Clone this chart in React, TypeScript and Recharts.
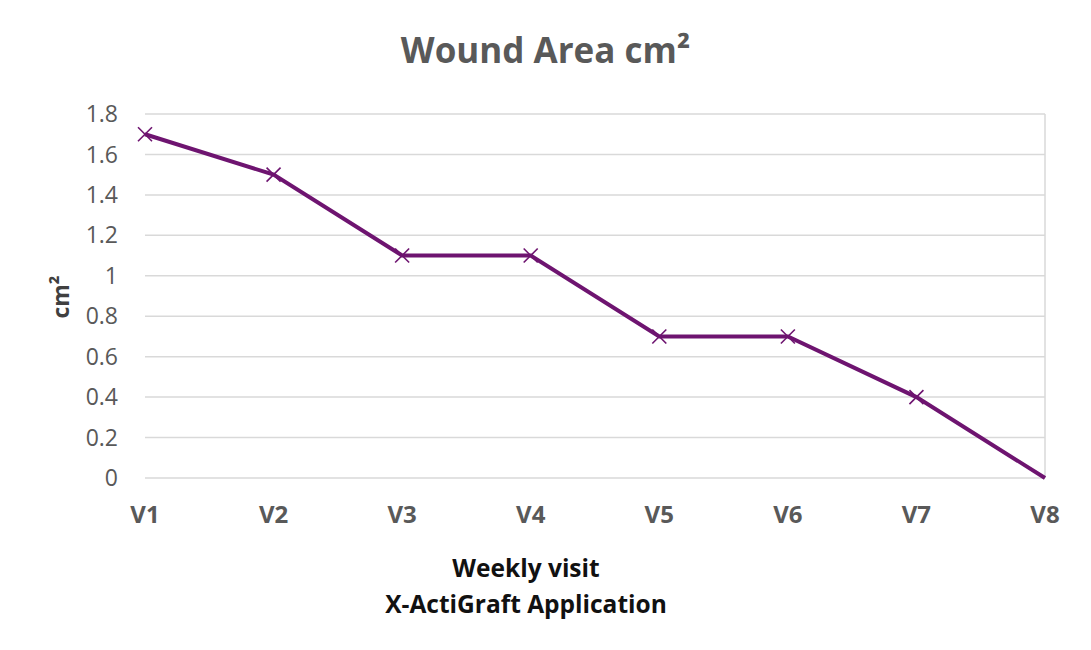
import { CartesianGrid, Line, LineChart, ReferenceLine, XAxis, YAxis } from "recharts";

const visits = ["V1", "V2", "V3", "V4", "V5", "V6", "V7", "V8"];
const woundArea = [1.7, 1.5, 1.1, 1.1, 0.7, 0.7, 0.4, 0];
const yTicks = [0, 0.2, 0.4, 0.6, 0.8, 1, 1.2, 1.4, 1.6, 1.8];

const data = visits.map((name, i) => ({ name, area: woundArea[i] }));

const font = "'Open Sans', sans-serif";
const purple = "#6e1470";

function CrossDot(props: any) {
  const { cx, cy, index } = props;
  if (index === visits.length - 1 || cx == null || cy == null) return null;
  const s = 7;
  return (
    <g key={`dot-${index}`}>
      <line x1={cx - s} y1={cy - s} x2={cx + s} y2={cy + s} stroke={purple} strokeWidth={1.6} />
      <line x1={cx - s} y1={cy + s} x2={cx + s} y2={cy - s} stroke={purple} strokeWidth={1.6} />
    </g>
  );
}

export default function App() {
  return (
    <div style={{ position: "relative", width: 1091, height: 650, background: "#fff", fontFamily: font }}>
      <style>{"body{margin:0}"}</style>
      <div style={{ position: "absolute", top: 25, left: 0, width: 1091, textAlign: "center", fontSize: 35, lineHeight: "50px", fontWeight: 700, color: "#595959" }}>
        Wound Area cm²
      </div>
      <div
        style={{
          position: "absolute",
          left: 60,
          top: 297,
          transform: "translate(-50%, -50%) rotate(-90deg)",
          fontSize: 23,
          fontWeight: 700,
          color: "#404040",
          whiteSpace: "nowrap",
        }}
      >
        cm²
      </div>
      <div style={{ position: "absolute", top: 550, left: 0, width: 1052, textAlign: "center", fontSize: 24.5, fontWeight: 700, color: "#111", lineHeight: "36px" }}>
        Weekly visit
        <br />
        X-ActiGraft Application
      </div>
      <LineChart width={1091} height={650} data={data} margin={{ top: 114, right: 46, bottom: 142, left: 0 }}>
        <CartesianGrid vertical={false} stroke="#d9d9d9" strokeWidth={1.5} />
        <ReferenceLine x={visits[0]} stroke="#d9d9d9" strokeWidth={1.5} />
        <ReferenceLine x={visits[visits.length - 1]} stroke="#d9d9d9" strokeWidth={1.5} />
        <XAxis
          dataKey="name"
          padding={{ left: 0, right: 0 }}
          tickLine={false}
          axisLine={false}
          tickSize={0}
          tickMargin={28}
          interval={0}
          tick={{ fontSize: 24, fontWeight: 700, fill: "#595959", fontFamily: font }}
        />
        <YAxis
          width={145}
          domain={[0, 1.8]}
          ticks={yTicks}
          tickLine={false}
          axisLine={false}
          tickSize={0}
          tickMargin={27}
          tick={{ fontSize: 23, fill: "#595959", fontFamily: font }}
        />
        <Line
          type="linear"
          dataKey="area"
          stroke={purple}
          strokeWidth={4}
          dot={CrossDot}
          activeDot={false}
          isAnimationActive={false}
        />
      </LineChart>
    </div>
  );
}
